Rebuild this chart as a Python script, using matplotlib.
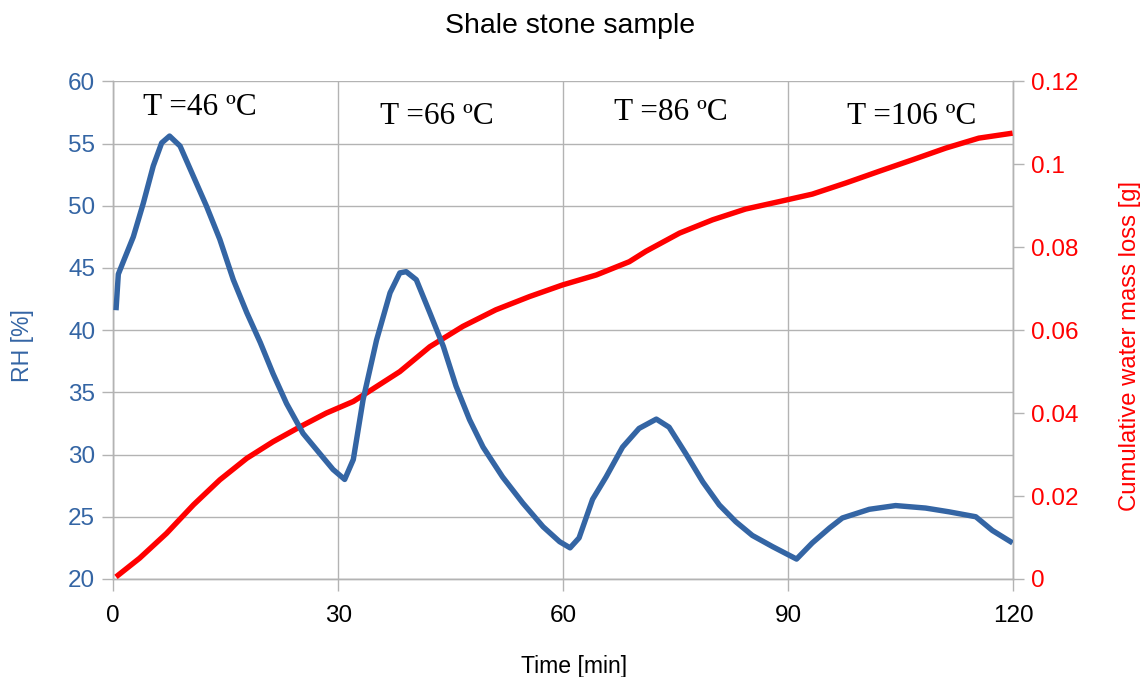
import matplotlib
matplotlib.use("Agg")
import matplotlib.pyplot as plt
from matplotlib.ticker import FuncFormatter

# ---- data ----
rh_time = [0.36, 0.67, 1.33, 2.67, 4.0, 5.33, 6.45, 7.5, 8.9, 10.65, 12.4, 14.2, 16.0, 17.8,
           19.6, 21.3, 23.1, 25.3, 27.5, 29.3, 30.85, 32.0, 33.3, 35.1, 36.9, 38.2, 39.05,
           40.4, 42.2, 44.0, 45.7, 47.5, 49.3, 51.9, 54.6, 57.3, 59.5, 60.9, 62.1, 63.9,
           65.7, 67.9, 70.1, 72.4, 74.1, 76.3, 78.6, 80.8, 83.0, 85.2, 87.9, 91.1, 93.2,
           95.5, 97.2, 100.8, 104.3, 108.3, 111.4, 115.0, 117.2, 119.9]
rh_values = [41.6, 44.5, 45.5, 47.5, 50.2, 53.2, 55.05, 55.6, 54.8, 52.4, 50.0, 47.3, 44.05,
             41.4, 39.0, 36.5, 34.1, 31.7, 30.1, 28.8, 28.0, 29.6, 34.4, 39.2, 43.0, 44.6,
             44.7, 44.05, 41.4, 38.7, 35.5, 32.8, 30.6, 28.2, 26.1, 24.2, 23.0, 22.5, 23.3,
             26.4, 28.2, 30.6, 32.1, 32.85, 32.2, 30.1, 27.8, 25.95, 24.6, 23.5, 22.6, 21.6,
             22.9, 24.1, 24.9, 25.6, 25.9, 25.7, 25.4, 25.0, 23.9, 22.9]

mass_time = [0.36, 3.5, 7.1, 10.7, 14.2, 17.8, 21.3, 24.9, 28.4, 32.0, 35.1, 38.2, 42.2, 46.6,
             51.0, 55.5, 59.9, 64.4, 68.8, 71.0, 75.5, 79.9, 84.3, 88.8, 93.2, 97.7, 102.1,
             106.6, 111.0, 115.4, 119.9]
mass_loss = [0.0005, 0.005, 0.011, 0.0179, 0.0239, 0.0291, 0.0331, 0.0367, 0.0400, 0.0428,
             0.0464, 0.0500, 0.0560, 0.0609, 0.0649, 0.0681, 0.0709, 0.0733, 0.0765, 0.079,
             0.0834, 0.0866, 0.0892, 0.0910, 0.0928, 0.0955, 0.0983, 0.1011, 0.1039, 0.1063,
             0.1075]

x_ticks = [0, 30, 60, 90, 120]
rh_ticks = [20, 25, 30, 35, 40, 45, 50, 55, 60]
mass_ticks = [0, 0.02, 0.04, 0.06, 0.08, 0.1, 0.12]

temp_labels = ["T =46 ºC", "T =66 ºC", "T =86 ºC", "T =106 ºC"]
temp_label_x = [11.5, 43.1, 74.3, 106.5]
temp_label_y = [57.9, 57.2, 57.5, 57.2]

title = "Shale stone sample"
xlabel = "Time [min]"
ylabel_left = "RH [%]"
ylabel_right = "Cumulative water mass loss [g]"

# ---- style ----
BLUE = "#3465a4"
RED = "#ff0000"
GRID = "#b3b3b3"
plt.rcParams['font.family'] = ['Liberation Sans', 'DejaVu Sans']

fig = plt.figure(figsize=(11.41, 6.77), dpi=100)
ax = fig.add_axes([0.0993, 0.1448, 0.7888, 0.7351])
ax2 = ax.twinx()

ax.set_xlim(0, 120)
ax.set_ylim(20, 60)
ax2.set_ylim(0, 0.12)

ax.set_xticks(x_ticks)
ax.set_yticks(rh_ticks)
ax2.set_yticks(mass_ticks)
ax2.yaxis.set_major_formatter(FuncFormatter(lambda v, p: f"{v:g}"))

ax.grid(True, color=GRID, linewidth=1.0)
ax.set_axisbelow(True)

for a in (ax, ax2):
    for s in a.spines.values():
        s.set_color(GRID)
        s.set_linewidth(1.0)
    a.spines['top'].set_visible(False)

ax.tick_params(axis='x', length=8.5, width=1, color=GRID, labelsize=17.5, pad=10,
               labelcolor='black')
ax.tick_params(axis='y', length=8, width=1, color=GRID, labelsize=17.5, pad=5,
               labelcolor=BLUE)
ax2.tick_params(axis='y', length=8, width=1, color=GRID, labelsize=17.5, pad=5,
                labelcolor=RED)

# red on ax2, blue drawn on top via ax's data transform
ax2.plot(mass_time, mass_loss, color=RED, linewidth=3.9, solid_capstyle='butt',
         solid_joinstyle='round', zorder=3)
ax2.plot(rh_time, rh_values, color=BLUE, linewidth=3.9, solid_capstyle='butt',
         solid_joinstyle='round', transform=ax.transData, zorder=4)

for lbl, tx, ty in zip(temp_labels, temp_label_x, temp_label_y):
    ax2.text(tx, ty, lbl, transform=ax.transData, ha='center', va='center',
             fontsize=22.5, family=['Liberation Serif', 'DejaVu Serif'], color='black',
             zorder=5)

fig.text(0.4996, 0.962, title, ha='center', va='center', fontsize=20.5, color='black')
fig.text(0.503, 0.016, xlabel, ha='center', va='center', fontsize=16.6, color='black')
fig.text(0.0193, 0.489, ylabel_left, ha='center', va='center', rotation=90,
         fontsize=16.6, color=BLUE)
fig.text(0.990, 0.489, ylabel_right, ha='center', va='center', rotation=90,
         fontsize=17.2, color=RED)

fig.savefig("out.png", dpi=100)
